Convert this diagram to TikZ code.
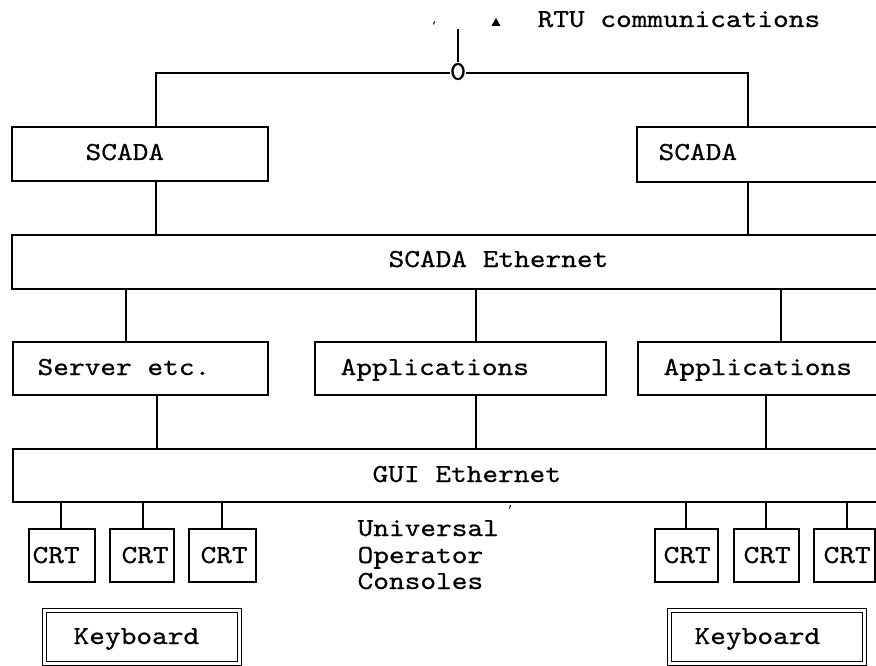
\documentclass[tikz,border=0pt]{standalone}
\usepackage{fontspec}
% slab-serif typewriter face, widened to a Courier-like pitch
\newfontfamily\courf{lmmono10-regular.otf}[FakeStretch=1.15, FakeBold=0.6]
\begin{document}
\begin{tikzpicture}[x=1pt,y=-1pt,
  line width=1.2pt,
  box/.style={draw, rectangle, anchor=north west, inner sep=0pt, outer sep=0pt},
  kbox/.style={box, double, double distance=2.6pt, line width=0.9pt},
  txt/.style={anchor=base west, inner sep=0pt, font=\courf\fontsize{26}{26}\selectfont},
  wire/.style={line width=1.2pt}]
\useasboundingbox (0,0) rectangle (876,666);
\clip (0,0) rectangle (876,666);

% SCADA servers
\node[box, minimum width=256pt, minimum height=54pt] (sca) at (12,127) {};
\node[box, minimum width=243pt, minimum height=55pt] (scb) at (637,127) {};
\node[txt] at (85,160) {SCADA};
\node[txt] at (658,160) {SCADA};

% SCADA Ethernet bus
\node[box, minimum width=868pt, minimum height=54pt] (eth) at (12,235) {};
\node[txt] at (388,267) {SCADA Ethernet};

% Server and application machines
\node[box, minimum width=255pt, minimum height=53pt] (srv) at (13,342) {};
\node[box, minimum width=291pt, minimum height=53pt] (appa) at (315,342) {};
\node[box, minimum width=242pt, minimum height=53pt] (appb) at (638,342) {};
\node[txt] at (37,375) {Server etc.};
\node[txt] at (340,375) {Applications};
\node[txt] at (663,375) {Applications};

% GUI Ethernet bus
\node[box, minimum width=867pt, minimum height=53pt] (gui) at (13,449) {};
\node[txt] at (372,482) {GUI Ethernet};

% Operator console screens
\node[box, minimum width=66pt, minimum height=53pt] (c1) at (29,529) {};
\node[box, minimum width=64pt, minimum height=53pt] (c2) at (110,529) {};
\node[box, minimum width=67pt, minimum height=53pt] (c3) at (189,529) {};
\node[box, minimum width=63pt, minimum height=53pt] (c4) at (655,529) {};
\node[box, minimum width=65pt, minimum height=53pt] (c5) at (734,529) {};
\node[box, minimum width=61pt, minimum height=53pt] (c6) at (814,529) {};
\node[txt] at (32,563) {CRT};
\node[txt] at (121,563) {CRT};
\node[txt] at (200,563) {CRT};
\node[txt] at (663,563) {CRT};
\node[txt] at (743,563) {CRT};
\node[txt] at (823,563) {CRT};

% Keyboards
\node[kbox, minimum width=195pt, minimum height=53pt] (kb1) at (44.5,610.5) {};
\node[kbox, minimum width=195pt, minimum height=53pt] (kb2) at (669.5,610.5) {};
\node[txt] at (73,644) {Keyboard};
\node[txt] at (694,644) {Keyboard};

% Console caption
\node[txt] (u1) at (357,536) {Universal};
\node[txt] (u2) at (357,563) {Operator};
\node[txt] (u3) at (357,589) {Consoles};

% RTU communications link
\node[anchor=center, inner xsep=-1.2pt, inner ysep=0pt,
      font=\courf\fontsize{27}{27}\selectfont] (zero) at (458,71.5) {0};
\coordinate (rtu) at (458,29);
\node[txt] (rtut) at (537,27) {RTU communications};
\fill (491.5,26) -- (500.5,26) -- (496,18) -- cycle;
\draw[line width=1pt] (434.5,21.5) -- (433.5,24.5);

\draw[wire] (zero.north) -- (rtu);
\draw[wire] (zero.west |- 0,73) -| ([xshift=16pt]sca.north);
\draw[wire] (zero.east |- 0,73) -| ([xshift=-10.5pt]scb.north);

% SCADA to SCADA Ethernet
\draw[wire] ([xshift=16pt]sca.south) -- ([xshift=16pt]sca.south |- eth.north);
\draw[wire] ([xshift=-10.5pt]scb.south) -- ([xshift=-10.5pt]scb.south |- eth.north);

% SCADA Ethernet to machines
\draw[wire] ([xshift=-14.5pt]srv.north) -- ([xshift=-14.5pt]srv.north |- eth.south);
\draw[wire] ([xshift=15.5pt]appa.north) -- ([xshift=15.5pt]appa.north |- eth.south);
\draw[wire] ([xshift=22pt]appb.north) -- ([xshift=22pt]appb.north |- eth.south);

% machines to GUI Ethernet
\draw[wire] ([xshift=16.5pt]srv.south) -- ([xshift=16.5pt]srv.south |- gui.north);
\draw[wire] ([xshift=15.5pt]appa.south) -- ([xshift=15.5pt]appa.south |- gui.north);
\draw[wire] ([xshift=7pt]appb.south) -- ([xshift=7pt]appb.south |- gui.north);

% GUI Ethernet to screens
\foreach \c/\d in {c1/-1pt, c2/1pt, c3/-0.5pt, c4/-0.5pt, c5/-0.5pt, c6/2.5pt}
  \draw[wire] ([xshift=\d]\c.north) -- ([xshift=\d]\c.north |- gui.south);

\draw[line width=1pt] (510.5,505) -- (509.5,508.5);
\end{tikzpicture}
\end{document}
